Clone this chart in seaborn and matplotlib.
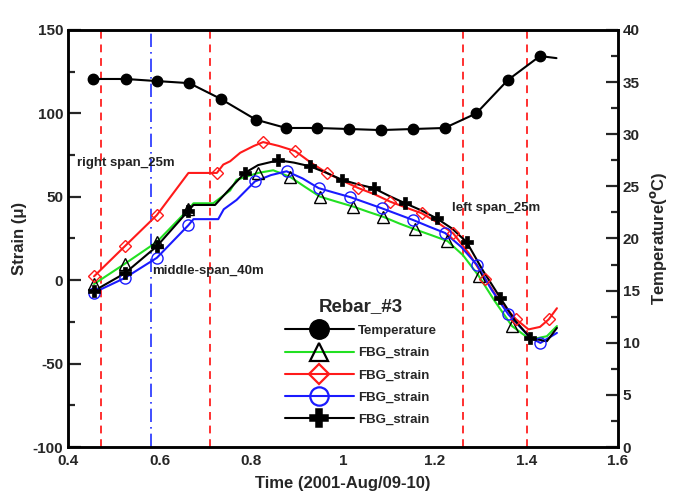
import matplotlib
matplotlib.use("Agg")
import matplotlib.pyplot as plt
import numpy as np
import pandas as pd
import seaborn as sns
from matplotlib.lines import Line2D
from matplotlib.ticker import MultipleLocator

# ---- data ----
temp_x = [0.455, 0.526, 0.594, 0.665, 0.733, 0.810, 0.876, 0.944, 1.014, 1.083,
          1.152, 1.222, 1.291, 1.360, 1.430, 1.466]
temp_y = [35.3, 35.3, 35.1, 34.9, 33.4, 31.4, 30.6, 30.6, 30.5, 30.4,
          30.5, 30.6, 32.0, 35.2, 37.5, 37.3]
temp_mark_n = 15  # last point is the line tail without a marker

green_x = [0.457, 0.524, 0.594, 0.663, 0.674, 0.717, 0.754, 0.768, 0.815, 0.848,
           0.885, 0.917, 0.950, 0.987, 1.023, 1.055, 1.088, 1.123, 1.158, 1.193,
           1.228, 1.262, 1.296, 1.330, 1.369, 1.409, 1.445, 1.467]
green_y = [-2.3, 9.8, 22.9, 42.5, 46.1, 46.1, 53.8, 60.2, 64.3, 65.9,
           61.9, 56.0, 50.1, 47.0, 44.1, 41.0, 38.0, 34.0, 30.4, 27.0,
           23.5, 15.0, 2.7, -12.0, -27.5, -35.6, -33.6, -27.5]
green_mx = [0.457, 0.524, 0.594, 0.663, 0.815, 0.885, 0.950, 1.023, 1.088, 1.158,
            1.228, 1.296, 1.369]
green_my = [-2.3, 9.8, 22.9, 42.5, 64.3, 61.9, 50.1, 44.1, 38.0, 30.4,
            23.5, 2.7, -27.5]

red_x = [0.457, 0.524, 0.594, 0.663, 0.725, 0.739, 0.754, 0.776, 0.805, 0.826,
         0.860, 0.896, 0.930, 0.965, 1.000, 1.034, 1.069, 1.103, 1.138, 1.172,
         1.207, 1.241, 1.275, 1.310, 1.343, 1.378, 1.405, 1.430, 1.449, 1.467]
red_y = [2.3, 20.3, 39.0, 64.3, 64.3, 69.3, 71.3, 76.4, 80.4, 82.8,
         80.5, 77.4, 70.5, 64.3, 59.5, 55.2, 51.5, 47.1, 43.5, 40.1,
         34.5, 28.0, 16.0, 1.0, -13.0, -23.5, -29.5, -28.0, -23.5, -16.8]
red_mx = [0.457, 0.524, 0.594, 0.725, 0.826, 0.896, 0.965, 1.034, 1.103, 1.172,
          1.241, 1.310, 1.378, 1.449]
red_my = [2.3, 20.3, 39.0, 64.3, 82.8, 77.4, 64.3, 55.2, 47.1, 40.1,
          28.0, 1.0, -23.5, -23.5]

blue_x = [0.457, 0.524, 0.594, 0.663, 0.674, 0.728, 0.740, 0.768, 0.808, 0.843,
          0.877, 0.912, 0.947, 0.981, 1.016, 1.050, 1.085, 1.120, 1.154, 1.189,
          1.223, 1.258, 1.292, 1.325, 1.361, 1.409, 1.431, 1.467]
blue_y = [-7.4, 1.3, 13.4, 33.0, 36.6, 36.6, 42.5, 48.1, 59.2, 63.0,
          65.3, 61.0, 55.2, 52.5, 49.8, 46.5, 43.1, 39.5, 36.0, 32.0,
          28.3, 20.0, 9.4, -6.0, -20.5, -34.6, -37.6, -31.6]
blue_mx = [0.457, 0.524, 0.594, 0.663, 0.808, 0.877, 0.947, 1.016, 1.085, 1.154,
           1.223, 1.292, 1.361, 1.431]
blue_my = [-7.4, 1.3, 13.4, 33.0, 59.2, 65.3, 55.2, 49.8, 43.1, 36.0,
           28.3, 9.4, -20.5, -37.6]

black_x = [0.457, 0.524, 0.594, 0.663, 0.674, 0.721, 0.754, 0.786, 0.815, 0.859,
           0.893, 0.928, 0.963, 0.998, 1.032, 1.067, 1.101, 1.136, 1.170, 1.205,
           1.238, 1.270, 1.305, 1.343, 1.375, 1.409, 1.445, 1.467]
black_y = [-6.4, 4.1, 20.3, 41.7, 45.1, 45.1, 55.0, 64.3, 69.0, 71.9,
           70.5, 68.3, 64.5, 60.2, 57.5, 55.2, 50.5, 46.1, 42.0, 37.0,
           31.0, 22.9, 6.0, -10.4, -24.0, -34.6, -36.6, -28.6]
black_mx = [0.457, 0.524, 0.594, 0.663, 0.786, 0.859, 0.928, 0.998, 1.067, 1.136,
            1.205, 1.270, 1.343, 1.409]
black_my = [-6.4, 4.1, 20.3, 41.7, 64.3, 71.9, 68.3, 60.2, 55.2, 46.1,
            37.0, 22.9, -10.4, -34.6]

red_vlines = [0.472, 0.711, 1.262, 1.401]
blue_vline = 0.582
annotations = [("right span_25m", 0.42, 70.5),
               ("middle-span_40m", 0.583, 5.7),
               ("left span_25m", 1.238, 43.3)]

# ---- style ----
sns.set_style("white")
plt.rcParams["font.family"] = ["Liberation Sans", "DejaVu Sans"]
plt.rcParams["font.weight"] = "bold"
plt.rcParams["axes.labelweight"] = "bold"
plt.rcParams["axes.unicode_minus"] = False

fig = plt.figure(figsize=(6.79, 4.98), dpi=100)
ax = fig.add_axes([0.100, 0.1024, 0.810, 0.8374])
ax2 = ax.twinx()

for xv in red_vlines:
    ax.axvline(xv, color="#ff3030", ls=(0, (4, 3)), lw=1.4, zorder=1)
ax.axvline(blue_vline, color="#2030ff", ls=(0, (8, 3, 1, 3)), lw=1.2, zorder=1)

series = [
    (green_x, green_y, green_mx, green_my, "#22e022", "^", "none", "black", 8, 1.0),
    (red_x, red_y, red_mx, red_my, "#ff1a1a", "D", "none", "#ff1a1a", 6, 1.0),
    (blue_x, blue_y, blue_mx, blue_my, "#1a1aff", "o", "none", "#1a1aff", 8, 1.0),
    (black_x, black_y, black_mx, black_my, "black", "P", "black", "black", 8, 0.5),
]
handles = [Line2D([], [], color="black", lw=1.5, marker="o", ms=14,
                  mfc="black", mec="black")]
for lx, ly, mx, my, col, mk, mfc, mec, ms, mew in series:
    sns.lineplot(x=lx, y=ly, ax=ax, color=col, lw=1.5, sort=False,
                 estimator=None, zorder=3)
    ax.plot(mx, my, ls="none", marker=mk, ms=ms, mfc=mfc, mec=mec, mew=mew,
            zorder=4)
    handles.append(Line2D([], [], color=col, lw=1.5, marker=mk, ms=ms * 1.65,
                          mfc=mfc, mec=mec, mew=mew + 0.6))

sns.lineplot(x=temp_x, y=temp_y, ax=ax2, color="black", lw=1.5, sort=False,
             estimator=None, zorder=3)
ax2.plot(temp_x[:temp_mark_n], temp_y[:temp_mark_n], ls="none", marker="o",
         ms=7.5, color="black", zorder=4)

for txt, tx, ty in annotations:
    ax.text(tx, ty, txt, fontsize=9.5, fontweight="bold", color="#222222",
            ha="left", va="center", zorder=5)

labels = ["Temperature", "FBG_strain", "FBG_strain", "FBG_strain", "FBG_strain"]
leg = ax2.legend(handles, labels, title="Rebar_#3", loc="upper left",
                 bbox_to_anchor=(0.385, 0.37), frameon=False, handlelength=5.2,
                 fontsize=9.5, title_fontsize=13.5, labelspacing=0.75,
                 handletextpad=0.35, borderaxespad=0)
leg.get_title().set_fontweight("bold")

ax.set_xlim(0.4, 1.6)
ax.set_ylim(-100, 150)
ax2.set_ylim(0, 40)
ax.xaxis.set_major_locator(MultipleLocator(0.2))
ax.xaxis.set_minor_locator(MultipleLocator(0.1))
ax.yaxis.set_major_locator(MultipleLocator(50))
ax.yaxis.set_minor_locator(MultipleLocator(25))
ax2.yaxis.set_major_locator(MultipleLocator(5))
ax2.yaxis.set_minor_locator(MultipleLocator(2.5))
ax.set_xticklabels([f"{v:g}" for v in ax.get_xticks()])

for a in (ax, ax2):
    for sp in a.spines.values():
        sp.set_linewidth(1.8)
        sp.set_color("black")
ax.tick_params(axis="x", which="major", direction="in", length=9, width=1.6,
               labelsize=11, pad=5, top=False)
ax.tick_params(axis="x", which="minor", direction="in", length=5, width=1.6,
               top=False)
ax.tick_params(axis="y", which="major", direction="in", length=9, width=1.6,
               labelsize=11, right=False)
ax.tick_params(axis="y", which="minor", direction="in", length=5, width=1.6,
               right=False)
ax2.tick_params(axis="y", which="major", direction="in", length=9, width=1.6,
                labelsize=11)
ax2.tick_params(axis="y", which="minor", direction="in", length=5, width=1.6)

ax.set_xlabel("Time (2001-Aug/09-10)", fontsize=12, fontweight="bold", labelpad=6)
ax.set_ylabel("Strain (\u03bc)", fontsize=12, fontweight="bold", labelpad=4)
ax2.set_ylabel(r"Temperature($^{\mathbf{o}}$C)", fontsize=12, fontweight="bold",
               labelpad=6)

fig.savefig("out.png", dpi=100)
